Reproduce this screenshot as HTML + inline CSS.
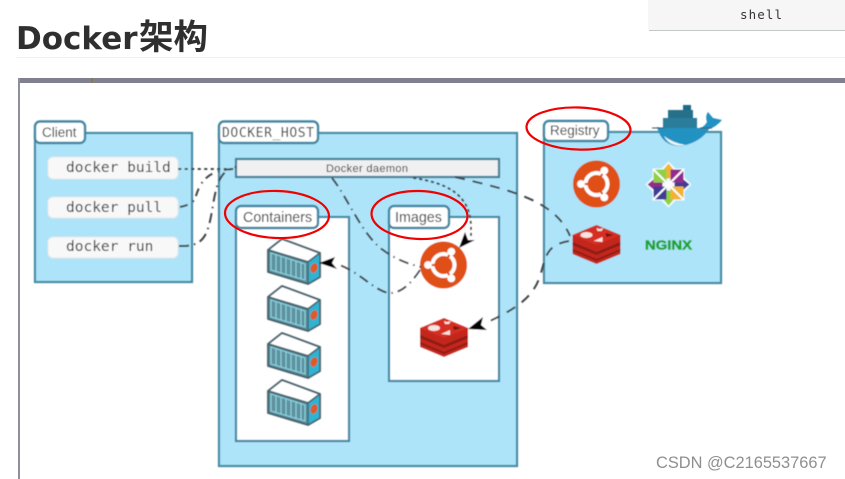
<!DOCTYPE html>
<html><head><meta charset="utf-8"><style>
html,body{margin:0;padding:0;background:#fff;width:845px;height:479px;overflow:hidden}
svg{display:block}
text{font-family:"Liberation Sans","Noto Sans CJK SC",sans-serif}
.m{font-family:"DejaVu Sans Mono","Liberation Mono",monospace}
.p{fill:#ade4f9;stroke:#478aa6;stroke-width:2.200}
.t{fill:#fff;stroke:#3f86a3;stroke-width:2.400}
.w{fill:#fff;stroke:#3f86a3;stroke-width:2.200}
.c{fill:none;stroke:#3f4447;stroke-width:2}
</style></head><body>
<svg width="845" height="479" viewBox="0 0 845 479" xmlns="http://www.w3.org/2000/svg">
<defs>
<filter id="b" x="-5%" y="-5%" width="110%" height="110%"><feGaussianBlur stdDeviation="0.55"/></filter>
<g id="ub">
<circle r="23.500" fill="#e04f14"/>
<circle r="11" fill="none" stroke="#fff" stroke-width="4"/>
<g stroke="#e04f14" stroke-width="2.200"><path d="M5 0H15M-2.500 -4.300L-8 -14M-2.500 4.300L-8 14" transform="rotate(60)"/></g>
<circle cx="-15.500" cy="0" r="3.900" fill="#fff"/><circle cx="7.800" cy="-13.400" r="3.900" fill="#fff"/><circle cx="7.800" cy="13.400" r="3.900" fill="#fff"/>
</g>
<g id="rd">
<path d="M-24 -9L0 -19L24 -9V10L0 20L-24 10Z" fill="#c4281d"/>
<path d="M-24 -2L0 8L24 -2V1L0 11L-24 1Z" fill="#8f1a13"/>
<path d="M-24 5L0 15L24 5V7L0 17L-24 7Z" fill="#8f1a13"/>
<path d="M-24 -9L0 -19L24 -9L0 1Z" fill="#d62e22"/>
<ellipse cx="-10" cy="-9" rx="6" ry="3" fill="#f8e4e0"/>
<path d="M0 -16l3 1l4 -1l-2 3l-4 0Z" fill="#f8e4e0"/>
<path d="M-3 -3l9 -4l0 5Z" fill="#f8e4e0"/>
<path d="M9 -11l8 2l-7 2Z" fill="#6e140e"/>
</g>
<g id="ct">
<path d="M0 11L14 0L52 14V38L40 45L0 33Z" fill="#5f929f" stroke="#46656f" stroke-width="2.200" stroke-linejoin="round"/>
<path d="M0 11L14 0L52 14L40 23Z" fill="#fff" stroke="#46656f" stroke-width="2" stroke-linejoin="round"/>
<path d="M40 23L52 14V38L40 45Z" fill="#2fb3d3" stroke="#46656f" stroke-width="1.500" stroke-linejoin="round"/>
<path d="M3 14L37 25V41L3 31Z" fill="#5f929f" stroke="#90d8e6" stroke-width="1"/>
<path d="M8 16V33M13 17V34M18 19V36M23 20V37M28 22V39M33 23V40" stroke="#90d8e6" stroke-width="1"/>
<ellipse cx="46" cy="29" rx="3.500" ry="5" fill="#df5a2a" transform="rotate(20 46 29)"/>
</g>
</defs>

<text y="49" fill="#2f2f2f" font-weight="700"><tspan x="16" font-size="31" style="font-family:'DejaVu Sans',sans-serif">Docker</tspan><tspan x="139" font-size="34.500" style="font-family:'Noto Sans CJK SC',sans-serif">架构</tspan></text>
<rect x="16" y="57" width="829" height="1" fill="#eeeeee"/>
<path d="M648 0V28Q648 30 650 30H845V0Z" fill="#f6f6f6"/>
<path d="M649 30.500H845" stroke="#c5c8c8" stroke-width="1"/>
<text class="m" x="740" y="19" font-size="12.500" fill="#333" textLength="42">shell</text>

<rect x="18" y="78" width="827" height="5" fill="#80808f"/>
<rect x="18" y="78" width="2" height="401" fill="#8e8e9c"/>
<rect x="91" y="78" width="2" height="5" fill="#8a7a50"/>

<g filter="url(#b)">
<rect class="p" x="35" y="133" width="157" height="149"/>
<rect class="t" x="35" y="121.500" width="50" height="21.500" rx="5"/>
<text x="42" y="137" font-size="13.500" fill="#333">Client</text>
<g fill="#f8f8f8" stroke="#e3e7e8" stroke-width="1">
<rect x="48" y="157" width="130" height="22" rx="5"/>
<rect x="48" y="197" width="130" height="21" rx="5"/>
<rect x="48" y="237" width="130" height="21" rx="5"/>
</g>
<text class="m" x="66" y="172" font-size="14.500" fill="#333">docker build</text>
<text class="m" x="66" y="212" font-size="14.500" fill="#333">docker pull</text>
<text class="m" x="66" y="251" font-size="14.500" fill="#333">docker run</text>

<rect class="p" x="219" y="133" width="298" height="333"/>
<rect class="t" x="219" y="121.500" width="99" height="21.500" rx="5"/>
<text class="m" x="222" y="137" font-size="13" fill="#333" textLength="92">DOCKER_HOST</text>
<rect x="236" y="159" width="263" height="18" fill="#f0f0f2" stroke="#3f7f98" stroke-width="2.200"/>
<text x="326" y="172" font-size="11" fill="#333" textLength="82">Docker daemon</text>

<rect class="w" x="236" y="217" width="113" height="224"/>
<rect class="t" x="236" y="206" width="82" height="22" rx="5"/>
<text x="243" y="222" font-size="14.300" fill="#333">Containers</text>
<rect class="w" x="389" y="217" width="110" height="164"/>
<rect class="t" x="389" y="206" width="60" height="22" rx="5"/>
<text x="395" y="222" font-size="14.300" fill="#333">Images</text>

<use href="#ct" x="268" y="239"/>
<use href="#ct" x="268" y="286"/>
<use href="#ct" x="268" y="333"/>
<use href="#ct" x="268" y="380"/>

<use href="#ub" x="443.500" y="265"/>
<use href="#rd" x="444" y="337"/>

<rect class="p" x="544" y="132" width="177" height="151"/>
<rect class="t" x="544" y="121" width="64" height="20" rx="5"/>
<text x="550" y="135" font-size="13.500" fill="#333">Registry</text>
<use href="#ub" x="596.500" y="184"/>
<use href="#rd" x="596.500" y="244"/>

<g transform="translate(668.500,184.500)">
<path d="M0 -23L7 -16H16V-7L23 0L16 7V16H7L0 23L-7 16H-16V7L-23 0L-16 -7V-16H-7Z" fill="#f4fbfe"/>
<path d="M-2 -2V-15H-15V-2Z" fill="#8fd13f"/>
<path d="M2 -2V-15H15V-2Z" fill="#952c8e"/>
<path d="M-2 2V15H-15V2Z" fill="#3f3b94"/>
<path d="M2 2V15H15V2Z" fill="#f2b332"/>
<path d="M0 -21l-5 6h3V-6h4V-15h3Z" fill="#f2b332"/>
<path d="M21 0l-6 -5v3H6v4H15v3Z" fill="#3f3b94"/>
<path d="M0 21l-5 -6h3V6h4V15h3Z" fill="#8fd13f"/>
<path d="M-21 0l6 -5v3H-6v4H-15v3Z" fill="#952c8e"/>
<path d="M-15 -15L15 15M15 -15L-15 15" stroke="#fff" stroke-width="2"/>
</g>
<text x="645" y="249.500" font-size="13" font-weight="700" fill="#17a52e" stroke="#17a52e" stroke-width="0.500" textLength="47" lengthAdjust="spacingAndGlyphs">NGINX</text>

<path d="M657 127L663 128H700Q704 127 707 122Q705 116 708 112L713 118L722 120Q716 127 709 129Q701 142 682 146Q662 147 657 127Z" fill="#2492c2"/>
<path d="M664 136Q673 143 686 145Q670 148 664 136Z" fill="#eaf5f8"/>
<rect x="663" y="118" width="34" height="10" fill="#2a7d9b"/>
<rect x="668" y="110" width="25" height="8" fill="#256f8a"/>
<rect x="683" y="105" width="8" height="5" fill="#1f6a86"/>
<path d="M652 128H664M700 128H712" stroke="#3d5560" stroke-width="1"/>

<path class="c" d="M179 169H236" stroke-dasharray="1.500 5" stroke-linecap="round"/>
<path class="c" d="M180 207Q191 205 195 199C199 186 204 169 236 169" stroke-dasharray="8 6 1.500 5"/>
<path class="c" d="M179 246C205 247 208 235 213 205C217 180 222 170 236 167" stroke-dasharray="10 5 1.500 5"/>
<path class="c" d="M414 178C445 183 470 193 471 226V236" stroke-dasharray="1.500 4.500" stroke-linecap="round"/>
<path class="c" d="M455 177C510 190 555 200 570 236" stroke-dasharray="10 8"/>
<path class="c" d="M569 241C545 245 546 258 540 276C533 298 515 309 490 321" stroke-dasharray="10 8"/>
<path class="c" d="M332 178C348 198 362 235 383 250C395 259 408 264 421 267" stroke-dasharray="10 5 1.500 5"/>
<path class="c" d="M420 270C410 285 400 294 388 293C372 289 360 272 337 264" stroke-dasharray="10 5 1.500 5"/>
<path d="M319 263L335 257L332 263L337 269Z" fill="#000"/>
<path d="M459 248L465 232L468 240L475 240Z" fill="#000"/>
<path d="M468 329L483 317L481 325L487 330Z" fill="#000"/>
</g>

<g fill="none" stroke="#f00000" stroke-width="2.200">
<ellipse cx="277" cy="214.500" rx="52" ry="23.500" transform="rotate(2 277 214)"/>
<ellipse cx="419.500" cy="215" rx="48" ry="24" transform="rotate(2 419 215)"/>
<ellipse cx="578.500" cy="128.500" rx="52" ry="21" transform="rotate(2 578 128)"/>
</g>

<text x="656" y="468" font-size="16.400" fill="#8f8f8f">CSDN @C2165537667</text>
</svg>
</body></html>
